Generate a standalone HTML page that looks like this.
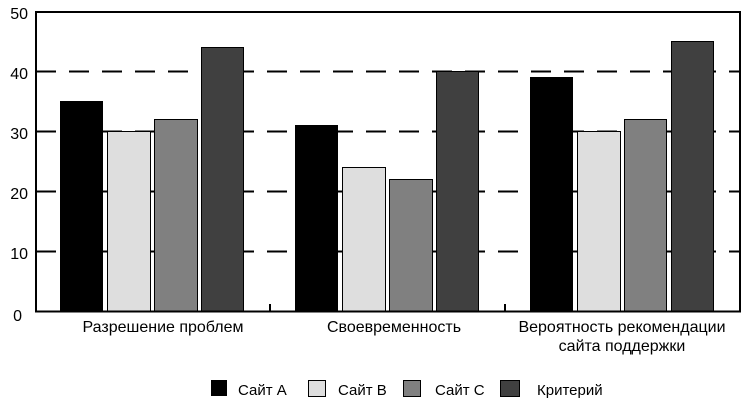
<!DOCTYPE html>
<html><head><meta charset="utf-8"><style>
html,body{margin:0;padding:0;background:#fff;}
svg text{font-family:"Liberation Sans",Arial,sans-serif;font-size:16px;fill:#000;}
svg text.lg{font-size:15px;}
</style></head><body>
<svg width="745" height="401" viewBox="0 0 745 401" xmlns="http://www.w3.org/2000/svg">
<rect x="0" y="0" width="745" height="401" fill="#fff"/>
<g stroke="#000" stroke-width="2" stroke-dasharray="20,13">
<line x1="36" y1="71.5" x2="740" y2="71.5"/>
<line x1="36" y1="131.5" x2="740" y2="131.5"/>
<line x1="36" y1="191.5" x2="740" y2="191.5"/>
<line x1="36" y1="251.5" x2="740" y2="251.5"/>
</g>
<g stroke="#000" stroke-width="1">
<rect x="60.5" y="101.5" width="42" height="210" fill="#000"/>
<rect x="107.5" y="131.5" width="43" height="180" fill="#dedede"/>
<rect x="154.5" y="119.5" width="43" height="192" fill="#808080"/>
<rect x="201.5" y="47.5" width="42" height="264" fill="#404040"/>
<rect x="295.5" y="125.5" width="42" height="186" fill="#000"/>
<rect x="342.5" y="167.5" width="43" height="144" fill="#dedede"/>
<rect x="389.5" y="179.5" width="43" height="132" fill="#808080"/>
<rect x="436.5" y="71.5" width="42" height="240" fill="#404040"/>
<rect x="530.5" y="77.5" width="42" height="234" fill="#000"/>
<rect x="577.5" y="131.5" width="43" height="180" fill="#dedede"/>
<rect x="624.5" y="119.5" width="42" height="192" fill="#808080"/>
<rect x="671.5" y="41.5" width="42" height="270" fill="#404040"/>
</g>
<rect x="36" y="12" width="704" height="299.5" fill="none" stroke="#000" stroke-width="2"/>
<line x1="270" y1="311" x2="270" y2="304" stroke="#000" stroke-width="2"/>
<line x1="505" y1="311" x2="505" y2="304" stroke="#000" stroke-width="2"/>
<g text-anchor="end">
<text x="28" y="19">50</text>
<text x="28" y="79">40</text>
<text x="28" y="139">30</text>
<text x="28" y="199">20</text>
<text x="28" y="259">10</text>
<text x="22" y="321">0</text>
</g>
<g text-anchor="middle">
<text x="163" y="332">Разрешение проблем</text>
<text x="394" y="332">Своевременность</text>
<text x="622" y="332">Вероятность рекомендации</text>
<text x="622" y="351">сайта поддержки</text>
</g>
<rect x="211" y="380" width="16" height="16" fill="#000"/>
<rect x="308.5" y="380.5" width="17" height="16" fill="#dedede" stroke="#000" stroke-width="1"/>
<rect x="403.5" y="380.5" width="17" height="16" fill="#808080" stroke="#000" stroke-width="1"/>
<rect x="500.5" y="380.5" width="19" height="16" fill="#404040" stroke="#000" stroke-width="1"/>
<text class="lg" x="238" y="395">Сайт A</text>
<text class="lg" x="338" y="395">Сайт B</text>
<text class="lg" x="435" y="395">Сайт C</text>
<text class="lg" x="537" y="395">Критерий</text>
</svg>
</body></html>
